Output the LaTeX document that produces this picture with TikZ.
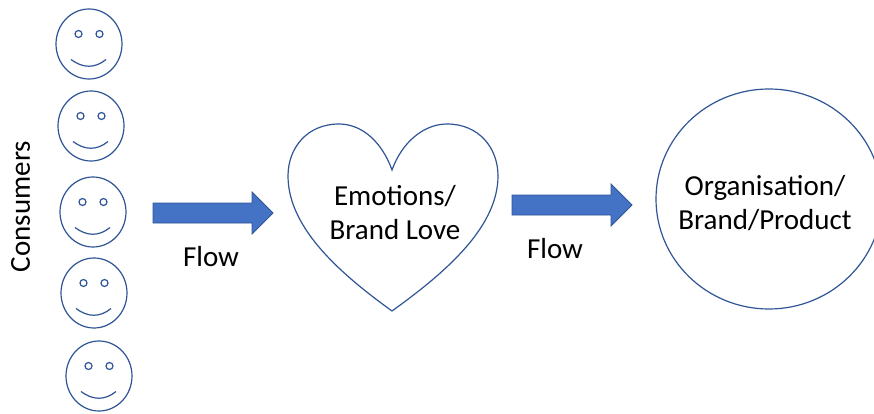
\documentclass[tikz,border=0pt]{standalone}
\usepackage{fontspec}
\setmainfont{Carlito}
\definecolor{ol}{HTML}{2F5597}
\definecolor{fl}{HTML}{4472C4}
\tikzset{
  outl/.style={draw=ol,line width=1.2pt,fill=white},
  lbl/.style={font=\fontsize{29}{34}\selectfont,text=black,align=center,inner sep=0pt},
  blockarrow/.style={draw=ol,line width=0.8pt,fill=fl,line join=miter},
  pics/smiley/.style={code={
    \draw[outl] (0,0) ellipse [x radius=33,y radius=35];
    \draw[outl] (-10.5,-10) circle (3.5);
    \draw[outl] (10.5,-10) circle (3.5);
    \draw[ol,line width=1.2pt] (-18,15.5) .. controls (-6,24.5) and (6,24.5) .. (17,15.5);
  }},
  pics/flowarrow/.style={code={
    \draw[blockarrow] (0,-10) -- (99,-10) -- (99,-21) -- (120,0) -- (99,21) -- (99,10) -- (0,10) -- cycle;
  }}
}
\begin{document}
\begin{tikzpicture}[x=1pt,y=-1pt]
\useasboundingbox (0,0) rectangle (874,414);
\pic at (89,44) {smiley};
\pic at (91,126) {smiley};
\pic at (93,212) {smiley};
\pic at (94,293) {smiley};
\pic at (99,376) {smiley};
\node[lbl,rotate=90] (consumers) at (20.5,206.5) {Consumers};
\pic at (153,213) {flowarrow};
\pic at (512,205) {flowarrow};
\node[lbl] (flowa) at (211,257) {Flow};
\node[lbl] (flowb) at (555,249) {Flow};
\draw[outl] (392,170)
  .. controls (382,142) and (362,124) .. (339,124)
  .. controls (307,124) and (288,148) .. (288,176)
  .. controls (288,230) and (345,277) .. (392,311)
  .. controls (439,277) and (498,230) .. (498,176)
  .. controls (498,148) and (479,124) .. (447,124)
  .. controls (424,124) and (402,142) .. (392,170) -- cycle;
\node[lbl] (love) at (395,213) {Emotions/\\Brand Love};
\draw[outl] (769,199) ellipse [x radius=113,y radius=110];
\node[lbl] (org) at (765,203) {Organisation/\\Brand/Product};
\end{tikzpicture}
\end{document}
